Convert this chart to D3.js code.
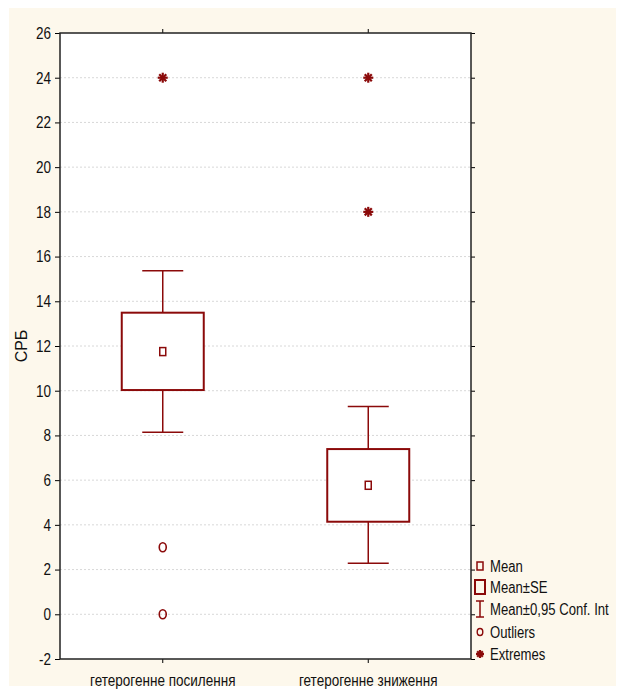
<!DOCTYPE html>
<meta charset="utf-8">
<title>СРБ box plot</title>
<style>
    body { margin: 0; background: #fff; }
    text { font-family: "Liberation Sans", Arial, sans-serif; fill: #111; }
</style>
<body>
<script src="https://cdn.jsdelivr.net/npm/d3@7"></script>
<script>

    var categories = ["гетерогенне посилення", "гетерогенне зниження"],
        means = [11.75, 5.77],
        seLow = [10.03, 4.14],
        seHigh = [13.49, 7.39],
        ciLow = [8.14, 2.28],
        ciHigh = [15.37, 9.29],
        outliers = [[3, 0], []],
        extremes = [[24], [24, 18]],
        yTicks = d3.range(-2, 27, 2),
        legendLabels = ["Mean", "Mean±SE", "Mean±0,95 Conf. Int", "Outliers", "Extremes"];

    var w = 617, h = 693,
        pl = 60, pr = 471, pt = 33, pb = 659,
        red = "#8b0a0a",
        k = 0.82; // horizontal squeeze to mimic a narrow face

    var svg = d3.select("body").append("svg")
        .attr("width", w)
        .attr("height", h);

    svg.append("rect")
        .attr("x", 9).attr("y", 8)
        .attr("width", 607).attr("height", 678)
        .attr("fill", "#fdf8ec");

    svg.append("rect")
        .attr("x", pl).attr("y", pt)
        .attr("width", pr - pl).attr("height", pb - pt)
        .attr("fill", "#fff");

    var x = d3.scaleBand().domain(categories).range([pl, pr]),
        y = d3.scaleLinear().domain([-2, 26]).range([pb, pt]);

    function cx(i) { return x(categories[i]) + x.bandwidth() / 2; }

    function narrow(sel) {
        sel.each(function() {
            var t = d3.select(this), x0 = +t.attr("x") || 0;
            t.attr("x", x0 / k).attr("transform", (t.attr("transform") || "") + "scale(" + k + ",1)");
        });
    }

    // grid
    svg.append("g").selectAll("line")
        .data(yTicks.slice(1, -1))
        .enter().append("line")
        .attr("x1", pl).attr("x2", pr)
        .attr("y1", y).attr("y2", y)
        .attr("stroke", "#d8d8d8")
        .attr("stroke-dasharray", "2,2");

    // axes
    svg.append("g")
        .attr("transform", "translate(" + pl + ",0)")
        .call(d3.axisLeft(y).tickValues(yTicks).tickSize(5).tickPadding(4)
            .tickFormat(function(d) { return String(d); }))
        .call(function(g) { g.select(".domain").remove(); })
        .selectAll("text").style("font-size", "16.5px").call(narrow);

    svg.append("g")
        .attr("transform", "translate(" + pr + ",0)")
        .call(d3.axisRight(y).tickValues(yTicks).tickSize(4).tickFormat(""))
        .call(function(g) { g.select(".domain").remove(); });

    svg.append("g")
        .attr("transform", "translate(0," + pb + ")")
        .call(d3.axisBottom(x).tickSize(4).tickPadding(11))
        .call(function(g) { g.select(".domain").remove(); })
        .selectAll("text").style("font-size", "16.5px").call(narrow);

    svg.append("g")
        .attr("transform", "translate(0," + pt + ")")
        .call(d3.axisTop(x).tickSize(4).tickFormat(""))
        .call(function(g) { g.select(".domain").remove(); });

    svg.append("rect")
        .attr("x", pl).attr("y", pt)
        .attr("width", pr - pl).attr("height", pb - pt)
        .attr("fill", "none")
        .attr("stroke", "#222")
        .attr("stroke-width", 1.5);

    svg.append("text")
        .attr("transform", "translate(27," + (pt + pb) / 2 + ")rotate(-90)")
        .attr("text-anchor", "middle")
        .style("font-size", "16px")
        .text("СРБ");

    // boxes
    var g = svg.append("g").attr("stroke", red).attr("fill", "none");
    var boxW = 82, capW = 41;

    categories.forEach(function(c, i) {
        var xc = cx(i);
        g.append("line")
            .attr("x1", xc).attr("x2", xc)
            .attr("y1", y(ciHigh[i])).attr("y2", y(ciLow[i]))
            .attr("stroke-width", 1.5);
        [ciHigh[i], ciLow[i]].forEach(function(v) {
            g.append("line")
                .attr("x1", xc - capW / 2).attr("x2", xc + capW / 2)
                .attr("y1", y(v)).attr("y2", y(v))
                .attr("stroke-width", 1.5);
        });
        g.append("rect")
            .attr("x", xc - boxW / 2).attr("y", y(seHigh[i]))
            .attr("width", boxW).attr("height", y(seLow[i]) - y(seHigh[i]))
            .attr("fill", "#fff")
            .attr("stroke-width", 2);
        g.append("rect")
            .attr("x", xc - 3).attr("y", y(means[i]) - 4)
            .attr("width", 6).attr("height", 8)
            .attr("stroke-width", 1.5);
        outliers[i].forEach(function(v) {
            g.append("ellipse")
                .attr("cx", xc).attr("cy", y(v))
                .attr("rx", 3.5).attr("ry", 4.5)
                .attr("stroke-width", 1.6);
        });
        extremes[i].forEach(function(v) {
            star(g, xc, y(v), 5);
        });
    });

    function star(sel, x0, y0, r) {
        var s = sel.append("g").attr("stroke-width", 2.2);
        [0, 45, 90, 135].forEach(function(a) {
            var t = a * Math.PI / 180;
            s.append("line")
                .attr("x1", x0 - r * Math.cos(t)).attr("y1", y0 - r * Math.sin(t))
                .attr("x2", x0 + r * Math.cos(t)).attr("y2", y0 + r * Math.sin(t));
        });
    }

    // legend
    var ly = [566, 587, 609, 632, 654], lx = 480;
    var lg = svg.append("g").attr("stroke", red).attr("fill", "none");
    lg.append("rect").attr("x", lx - 3).attr("y", ly[0] - 4).attr("width", 6).attr("height", 8).attr("stroke-width", 1.5);
    lg.append("rect").attr("x", lx - 5).attr("y", ly[1] - 7).attr("width", 10).attr("height", 14).attr("stroke-width", 2);
    lg.append("line").attr("x1", lx).attr("x2", lx).attr("y1", ly[2] - 8).attr("y2", ly[2] + 8).attr("stroke-width", 1.5);
    lg.append("line").attr("x1", lx - 4).attr("x2", lx + 4).attr("y1", ly[2] - 8).attr("y2", ly[2] - 8).attr("stroke-width", 1.5);
    lg.append("line").attr("x1", lx - 4).attr("x2", lx + 4).attr("y1", ly[2] + 8).attr("y2", ly[2] + 8).attr("stroke-width", 1.5);
    lg.append("ellipse").attr("cx", lx).attr("cy", ly[3]).attr("rx", 2.8).attr("ry", 3.5).attr("stroke-width", 1.4);
    star(lg, lx, ly[4], 4);

    svg.append("g").selectAll("text")
        .data(legendLabels)
        .enter().append("text")
        .attr("x", lx + 10)
        .attr("y", function(d, i) { return ly[i]; })
        .attr("dy", "0.36em")
        .style("font-size", "16px")
        .text(function(d) { return d; })
        .call(narrow);

</script>
